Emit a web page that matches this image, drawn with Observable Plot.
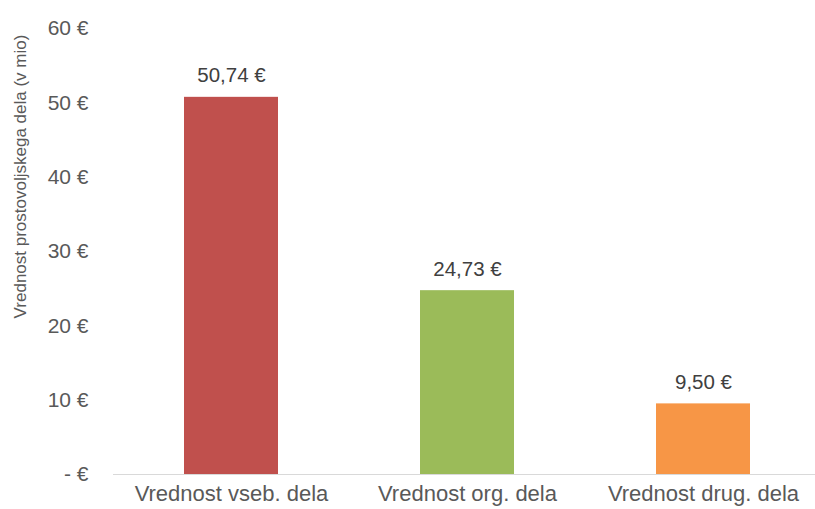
<!DOCTYPE html>
<html>
<head>
<meta charset="utf-8">
<script src="https://cdn.jsdelivr.net/npm/d3@7"></script>
<script src="https://cdn.jsdelivr.net/npm/@observablehq/plot@0.6"></script>
<style>
  body { margin: 0; background: #fff; }
  #chart svg { font-family: "Liberation Sans", Arial, sans-serif; }
</style>
</head>
<body>
<div id="chart"></div>
<script>
const categories = ["Vrednost vseb. dela", "Vrednost org. dela", "Vrednost drug. dela"];
const values = [50.74, 24.73, 9.50];
const colors = ["#C0504D", "#9BBB59", "#F79646"];
const yTicks = [0, 10, 20, 30, 40, 50, 60];
const yLabel = "Vrednost prostovoljskega dela (v mio)";

const data = categories.map((c, i) => ({cat: c, value: values[i], color: colors[i]}));
const fmt = d3.formatLocale({decimal: ",", thousands: ".", grouping: [3], currency: ["", " €"]}).format(".2f");

const chart = Plot.plot({
  width: 815,
  height: 509,
  marginLeft: 113,
  marginRight: 0,
  marginTop: 28,
  marginBottom: 35,
  style: {fontFamily: "Liberation Sans, Arial, sans-serif", color: "#595959", background: "#fff"},
  x: {domain: categories, range: [113, 822], paddingInner: 0.6, paddingOuter: 0.3, label: null},
  y: {domain: [0, 60], label: null},
  marks: [
    Plot.barY(data, {x: "cat", y: "value", fill: "color"}),
    Plot.ruleY([0], {stroke: "#d9d9d9", strokeWidth: 1}),
    Plot.text(data, {x: "cat", y: "value", text: d => fmt(d.value) + " €", dy: -15, lineAnchor: "bottom", fontSize: 20.5, fill: "#404040"}),
    Plot.axisY(yTicks, {tickSize: 0, tickPadding: 25, fontSize: 21, fill: "#595959", tickFormat: d => d === 0 ? "- €" : d + " €"}),
    Plot.axisX({tickSize: 0, tickPadding: 11, fontSize: 22, fill: "#595959", label: null}),
    Plot.text([yLabel], {frameAnchor: "left", textAnchor: "middle", text: d => d, rotate: -90, dx: -93, dy: -75, fontSize: 17, fill: "#595959"})
  ]
});
document.getElementById("chart").appendChild(chart);
</script>
</body>
</html>
